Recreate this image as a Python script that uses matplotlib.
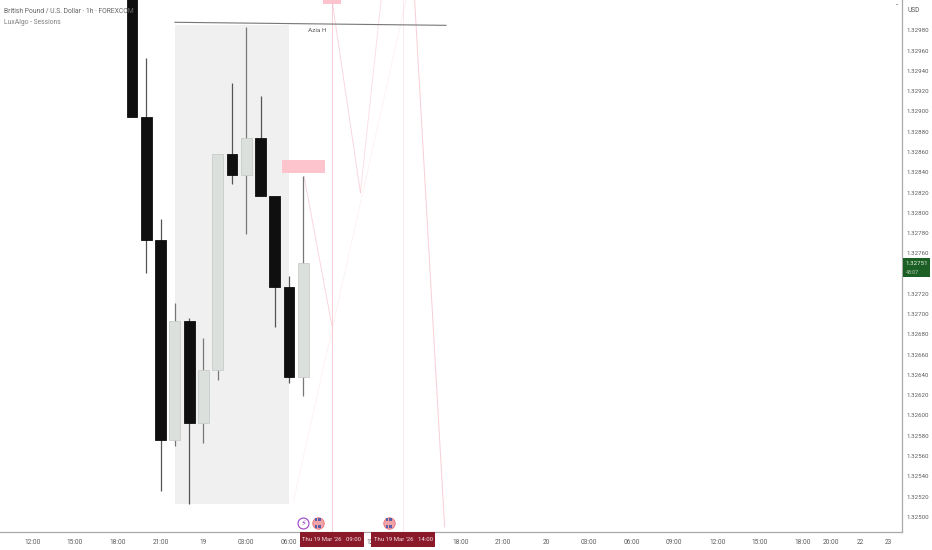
import matplotlib
matplotlib.use("Agg")
import matplotlib.pyplot as plt
from matplotlib.patches import Rectangle
from matplotlib.transforms import blended_transform_factory

plt.rcParams['font.family'] = ['Roboto', 'DejaVu Sans']

# Hours counted from 18 Mar 00:00
hours  = [19, 20, 21, 22, 23, 24, 25, 26, 27, 28, 29, 30, 31]
opens  = [1.33080, 1.32895, 1.32773, 1.32576, 1.32693, 1.32593, 1.32645, 1.32858, 1.32837, 1.32874, 1.32817, 1.32727, 1.32638]
closes = [1.32895, 1.32773, 1.32576, 1.32693, 1.32593, 1.32645, 1.32858, 1.32837, 1.32874, 1.32817, 1.32727, 1.32638, 1.32750]
highs  = [1.33100, 1.32953, 1.32794, 1.32711, 1.32696, 1.32676, 1.32858, 1.32928, 1.32983, 1.32915, 1.32817, 1.32738, 1.32836]
lows   = [1.32895, 1.32741, 1.32525, 1.32570, 1.32513, 1.32573, 1.32635, 1.32828, 1.32779, 1.32817, 1.32687, 1.32632, 1.32619]

# 1.32740 sits behind the last-price tag in the reference
ytick_values = [1.32500, 1.32520, 1.32540, 1.32560, 1.32580, 1.32600, 1.32620, 1.32640, 1.32660, 1.32680,
                1.32700, 1.32720, 1.32760, 1.32780, 1.32800, 1.32820, 1.32840, 1.32860, 1.32880, 1.32900,
                1.32920, 1.32940, 1.32960, 1.32980]
# 09:00 sits behind the first date tag in the reference
xtick_hours  = [12, 15, 18, 21, 24, 27, 30, 36, 42, 45, 48, 51, 54, 57, 60, 63, 66, 68, 70, 72]
xtick_labels = ['12:00', '15:00', '18:00', '21:00', '19', '03:00', '06:00', '12:00', '18:00', '21:00',
                '20', '03:00', '06:00', '09:00', '12:00', '15:00', '18:00', '20:00', '22', '23']

session_hours = (22.0, 30.03)
session_price = (1.32513, 1.32985)
azia_hours = [22.0, 41.0]
azia_price = [1.32988, 1.32985]
box_main = (29.5, 32.5, 1.32839, 1.32852)
box_top = (32.4, 33.65, 1.33006, 1.33030)
pink_vlines = [(33.0, 0.55), (38.0, 0.25)]
pink_paths = [
    ([31.05, 33.0], [1.32836, 1.32689], 0.45),
    ([33.05, 35.0], [1.33006, 1.32820], 0.45),
    ([35.0, 36.45], [1.32820, 1.33010], 0.35),
    ([38.8, 40.9], [1.33010, 1.32490], 0.55),
    ([30.3, 38.2], [1.32515, 1.33010], 0.15),
]
last_price = '1.32751'
countdown = '43:07'
tag_hours = [33, 38]
tag_labels = ["Thu 19 Mar '26   09:00", "Thu 19 Mar '26   14:00"]
bolt_hour = 31
flag_hours = [32, 37]

TXT = '#5c5c5c'
W, H = 932, 550
AX_W, AX_H = 902, 532

fig = plt.figure(figsize=(W / 100, H / 100), dpi=100, facecolor='white')
ax = fig.add_axes([0, 1 - AX_H / H, AX_W / W, AX_H / H])
ax.set_xlim(9.746, 72.95)
ax.set_ylim(1.32485, 1.33010)

ax.add_patch(Rectangle((session_hours[0], session_price[0]), session_hours[1] - session_hours[0],
                       session_price[1] - session_price[0], fc='#f0f0f0', ec='none', zorder=1))
for h, a in pink_vlines:
    ax.axvline(h, color='#f4a6b4', lw=0.7, alpha=a, zorder=2)
for xs, ys, a in pink_paths:
    ax.plot(xs, ys, color='#f4a6b4', lw=0.7, alpha=a, zorder=2)
ax.plot(azia_hours, azia_price, color='#777777', lw=0.8, zorder=3)
ax.text(32.0, 1.32980, 'Azia H', fontsize=4.6, color=TXT, ha='center', va='center', zorder=3)
for x0, x1, y0, y1 in (box_main, box_top):
    ax.add_patch(Rectangle((x0, y0), x1 - x0, y1 - y0, fc='#fdc4cd', ec='none', zorder=3))

for h, o, c, hi, lo in zip(hours, opens, closes, highs, lows):
    up = c > o
    ax.plot([h, h], [lo, hi], color='#777777' if up else '#555555', lw=0.9, zorder=4, solid_capstyle='butt')
    ax.add_patch(Rectangle((h - 0.38, min(o, c)), 0.76, abs(c - o),
                           fc='#dbe0dd' if up else '#0f0f0f',
                           ec='#c8cdca' if up else '#0f0f0f', lw=0.6, zorder=5))

for s in ('top', 'left'):
    ax.spines[s].set_visible(False)
for s in ('right', 'bottom'):
    ax.spines[s].set_color('#a8a8a8')
    ax.spines[s].set_linewidth(0.9)
ax.yaxis.tick_right()
ax.set_yticks(ytick_values)
ax.set_yticklabels([f'{v:.5f}' for v in ytick_values])
ax.set_xticks(xtick_hours)
ax.set_xticklabels(xtick_labels)
ax.tick_params(axis='x', length=0, labelsize=4.7, labelcolor=TXT, pad=5)
ax.tick_params(axis='y', length=0, labelsize=4.4, labelcolor=TXT, pad=3.5)

fig.text(4 / W, 1 - 11 / H, 'British Pound / U.S. Dollar · 1h · FOREXCOM', fontsize=4.85, color='#666666', va='center', zorder=20)
fig.text(4 / W, 1 - 22 / H, 'LuxAlgo - Sessions', fontsize=4.85, color='#808080', va='center', zorder=20)
fig.text(914 / W, 1 - 11 / H, 'USD', fontsize=4.8, color=TXT, va='center', ha='center')
fig.text(897 / W, 1 - 6 / H, '-', fontsize=5, color='#333333', va='center', ha='center')

# Last price tag
fig.add_artist(Rectangle((902.5 / W, 1 - 277 / H), 27 / W, 19 / H, transform=fig.transFigure, fc='#1c5f24', ec='none', zorder=15))
fig.text(916.5 / W, 1 - 263 / H, last_price, fontsize=4.4, color='#e8f2e8', ha='center', va='center', zorder=16)
fig.text(912.5 / W, 1 - 272 / H, countdown, fontsize=3.8, color='#b9d3ba', ha='center', va='center', zorder=16)

# Date tags
trans = blended_transform_factory(ax.transData, ax.transAxes)
for h, label in zip(tag_hours, tag_labels):
    fig.add_artist(Rectangle((ax.transData.transform((h - 2.24, 1.33))[0] / W, 3 / H), 4.48 * 14.27 / W, 15 / H,
                             transform=fig.transFigure, fc='#8a1a2a', ec='none', zorder=15))
    fig.text(ax.transData.transform((h, 1.33))[0] / W, 10.5 / H, label, fontsize=4.3, color='#f3dfe2',
             ha='center', va='center', zorder=16)

# Event markers
ev_y = (AX_H - 523) / AX_H
ax.scatter([bolt_hour], [ev_y], s=62, transform=trans, fc='white', ec='#9c3fc4', lw=0.8, zorder=8, clip_on=False)
ax.text(bolt_hour, ev_y, '\u26a1', transform=trans, fontsize=6, color='#9c3fc4', ha='center', va='center', zorder=9,
        family=['DejaVu Sans'])
for h in flag_hours:
    ax.scatter([h], [ev_y], s=68, transform=trans, fc='#f2a3a8', ec='#e8707c', lw=0.6, zorder=8, clip_on=False)
    for dy in (-3.5, 3.5):
        ax.scatter([h - 0.12, h + 0.12], [ev_y + dy / AX_H] * 2, s=3, marker='s', transform=trans,
                   fc='#5a5fa8', ec='none', zorder=9, clip_on=False)

fig.savefig('out.png', dpi=100, facecolor='white')
